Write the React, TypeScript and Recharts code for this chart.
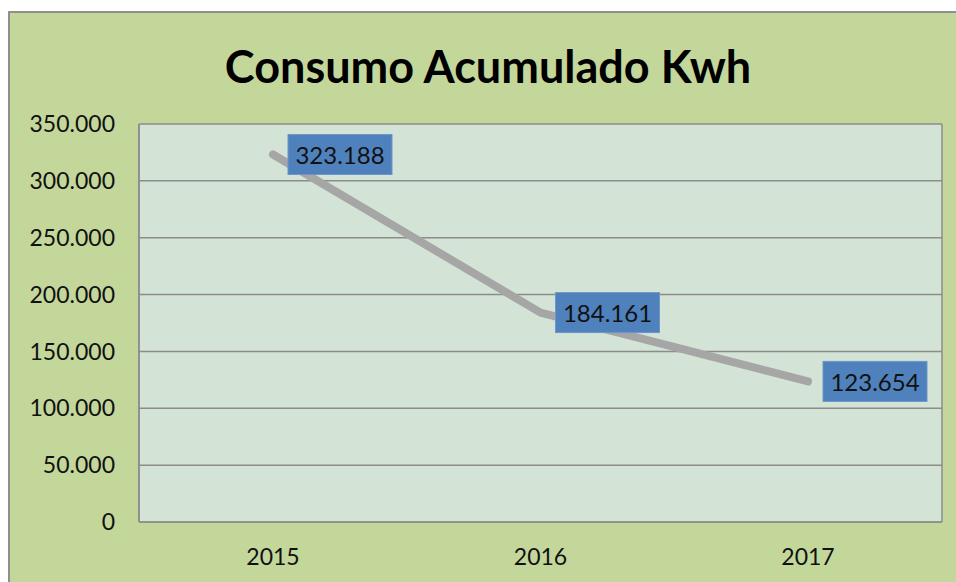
import { LineChart, Line, XAxis, YAxis, CartesianGrid, LabelList } from 'recharts';

const years = ['2015', '2016', '2017'];
const consumo = [323188, 184161, 123654];
const yTicks = [0, 50000, 100000, 150000, 200000, 250000, 300000, 350000];

const data = years.map((year, i) => ({ year, kwh: consumo[i] }));

const FONT = 'Lato, "Noto Sans", sans-serif';

// 350000 -> "350.000"
const fmt = (v: number) => String(Math.round(v)).replace(/\B(?=(\d{3})+(?!\d))/g, '.');

const BlueLabel = (props: any) => {
  const { x, y, value } = props;
  const w = 104;
  const h = 40;
  const bx = x + 15;
  const by = y - h / 2;
  return (
    <g>
      <rect x={bx} y={by} width={w} height={h} fill="#4f81bd" stroke="#6f96c8" strokeWidth={1} />
      <text
        x={bx + w / 2}
        y={by + h / 2}
        textAnchor="middle"
        dominantBaseline="central"
        fontFamily={FONT}
        fontSize={24}
        fill="#111"
      >
        {fmt(value)}
      </text>
    </g>
  );
};

export default function App() {
  return (
    <div
      style={{
        position: 'fixed',
        left: 8,
        top: 11,
        width: 946,
        height: 569,
        overflow: 'hidden',
        background: '#c4d79b',
        borderLeft: '2px solid #8f8f8f',
        borderTop: '2px solid #8f8f8f',
        fontFamily: FONT,
      }}
    >
      <div
        style={{
          position: 'absolute',
          top: 26,
          left: 0,
          width: 956,
          textAlign: 'center',
          fontSize: 45,
          fontWeight: 700,
          color: '#000',
        }}
      >
        Consumo Acumulado Kwh
      </div>
      <LineChart
        width={946}
        height={569}
        data={data}
        margin={{ top: 111, right: 14, left: 0, bottom: 20 }}
      >
        <CartesianGrid
          fill="#d3e3d6"
          stroke="#8c8c8c"
          strokeWidth={1.5}
          vertical={true}
          verticalPoints={[129, 932]}
        />
        <XAxis
          dataKey="year"
          height={40}
          padding={{ left: 134, right: 134 }}
          tickLine={false}
          tickSize={0}
          tickMargin={27}
          axisLine={{ stroke: '#8c8c8c', strokeWidth: 1.5 }}
          tick={{ fontFamily: FONT, fontSize: 23, fill: '#111' }}
        />
        <YAxis
          width={129}
          domain={[0, 350000]}
          ticks={yTicks}
          tickFormatter={fmt}
          tickLine={false}
          tickSize={0}
          tickMargin={24}
          axisLine={{ stroke: '#8c8c8c', strokeWidth: 1.5 }}
          tick={{ fontFamily: FONT, fontSize: 23, fill: '#111' }}
          interval={0}
        />
        <Line
          type="linear"
          dataKey="kwh"
          stroke="#a6a6a6"
          strokeWidth={8}
          strokeLinecap="round"
          strokeLinejoin="round"
          dot={false}
          activeDot={false}
          isAnimationActive={false}
        >
          <LabelList dataKey="kwh" content={BlueLabel} />
        </Line>
      </LineChart>
    </div>
  );
}
